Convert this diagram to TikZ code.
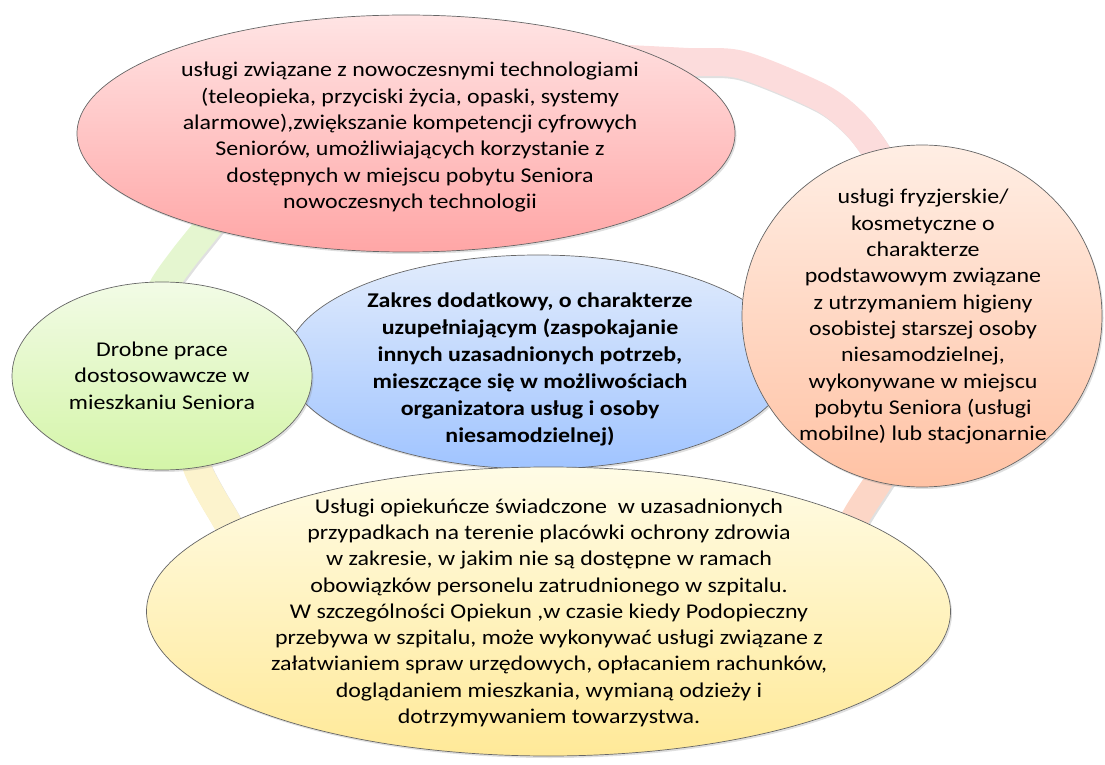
\documentclass[tikz,border=0pt]{standalone}
\usepackage{fontspec}
\setmainfont{Carlito}[FakeStretch=1.14]
\usetikzlibrary{shapes.geometric,shadows}
\definecolor{ringpink}{RGB}{252,220,220}
\definecolor{ringgreen}{RGB}{229,246,208}
\definecolor{ringyellow}{RGB}{252,243,205}
\definecolor{ringsalmon}{RGB}{252,214,198}
\definecolor{redtop}{RGB}{255,228,228}
\definecolor{redbot}{RGB}{255,166,166}
\definecolor{bluetop}{RGB}{226,236,252}
\definecolor{bluebot}{RGB}{160,196,255}
\definecolor{greentop}{RGB}{242,251,230}
\definecolor{greenbot}{RGB}{212,245,168}
\definecolor{orangetop}{RGB}{255,238,228}
\definecolor{orangebot}{RGB}{255,194,164}
\definecolor{yellowtop}{RGB}{255,252,230}
\definecolor{yellowbot}{RGB}{255,233,152}
\begin{document}
\begin{tikzpicture}[x=1pt,y=1pt,
  bubble/.style={ellipse, draw=black!60, line width=0.7pt, inner sep=0pt,
    drop shadow={shadow xshift=1.5pt, shadow yshift=-2pt, opacity=0.25}},
  txt/.style={align=center, inner sep=0pt, text=black,
    font=\fontsize{21}{26.3}\selectfont},
  band/.style={line width=28pt, line cap=butt},
  bandshadow/.style={line width=28pt, line cap=butt, draw=black, opacity=0.12}
]
\useasboundingbox (0,0) rectangle (1105,764);
% background ring
\begin{scope}[shift={(1.5,-2)}]
\draw[bandshadow] plot[smooth] coordinates {(560,704) (600,706) (688,702) (742,699) (820,667) (853,642) (875,614) (900,570)};
\draw[bandshadow] plot[smooth] coordinates {(228,563) (204,532) (184,507) (164,479) (150,449)};
\draw[bandshadow] plot[smooth] coordinates {(186,330) (198,294) (211,269) (224,247) (242,215)};
\draw[bandshadow] plot[smooth] coordinates {(897,312) (876,279) (858,251) (838,215)};
\end{scope}
\draw[band, draw=ringpink] plot[smooth] coordinates {(560,704) (600,706) (688,702) (742,699) (820,667) (853,642) (875,614) (900,570)};
\draw[band, draw=ringgreen] plot[smooth] coordinates {(228,563) (204,532) (184,507) (164,479) (150,449)};
\draw[band, draw=ringyellow] plot[smooth] coordinates {(186,330) (198,294) (211,269) (224,247) (242,215)};
\draw[band, draw=ringsalmon] plot[smooth] coordinates {(897,312) (876,279) (858,251) (838,215)};
% ellipses
\node[bubble, minimum width=658pt, minimum height=237pt, top color=redtop, bottom color=redbot] (tech) at (406,630.5) {};
\node[bubble, minimum width=504pt, minimum height=214pt, top color=bluetop, bottom color=bluebot] (core) at (538,402) {};
\node[bubble, minimum width=300pt, minimum height=188pt, top color=greentop, bottom color=greenbot] (small) at (162,388) {};
\node[bubble, minimum width=360pt, minimum height=342pt, top color=orangetop, bottom color=orangebot] (hair) at (922,448) {};
\node[bubble, minimum width=804pt, minimum height=289pt, top color=yellowtop, bottom color=yellowbot] (care) at (548.5,152.5) {};
% texts
\node[txt] (techtxt) at (410,626.8) {usługi związane z nowoczesnymi technologiami\\(teleopieka, przyciski życia, opaski, systemy\\alarmowe),zwiększanie kompetencji cyfrowych\\Seniorów, umożliwiających korzystanie z\\dostępnych w miejscu pobytu Seniora\\nowoczesnych technologii};
\node[txt, font=\fontsize{21}{27}\selectfont\bfseries] (coretxt) at (530,394.8) {Zakres dodatkowy, o charakterze\\uzupełniającym (zaspokajanie\\innych uzasadnionych potrzeb,\\mieszczące się w możliwościach\\organizatora usług i osoby\\niesamodzielnej)};
\node[txt] (smalltxt) at (162,388.5) {Drobne prace\\dostosowawcze w\\mieszkaniu Seniora};
\node[txt] (hairtxt) at (923,447.2) {usługi fryzjerskie/\\kosmetyczne o\\charakterze\\podstawowym związane\\z utrzymaniem higieny\\osobistej starszej osoby\\niesamodzielnej,\\wykonywane w miejscu\\pobytu Seniora (usługi\\mobilne) lub stacjonarnie};
\node[txt] (caretxt) at (549,151.3) {Usługi opiekuńcze świadczone\ \ w uzasadnionych\\przypadkach na terenie placówki ochrony zdrowia\\w zakresie, w jakim nie są dostępne w ramach\\obowiązków personelu zatrudnionego w szpitalu.\\W szczególności Opiekun ,w czasie kiedy Podopieczny\\przebywa w szpitalu, może wykonywać usługi związane z\\załatwianiem spraw urzędowych, opłacaniem rachunków,\\doglądaniem mieszkania, wymianą odzieży i\\dotrzymywaniem towarzystwa.};
\end{tikzpicture}
\end{document}
